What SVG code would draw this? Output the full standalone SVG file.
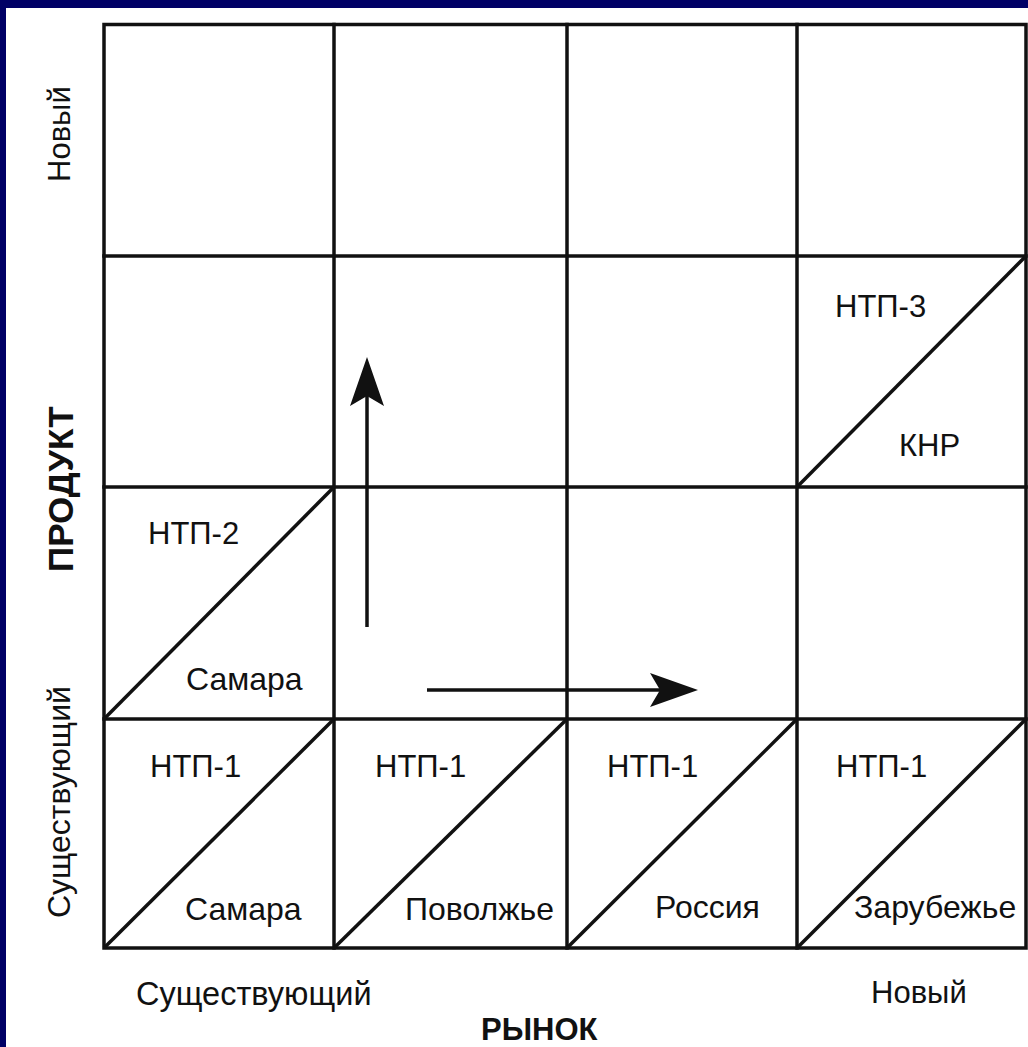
<svg xmlns="http://www.w3.org/2000/svg" width="1028" height="1047" viewBox="0 0 1028 1047">
  <style>
    .grid { stroke: #111; stroke-width: 3.5; fill: none; stroke-linecap: square; }
    .diag { stroke: #111; stroke-width: 3.5; fill: none; }
    .arrow { stroke: #111; stroke-width: 3.5; fill: none; }
    .head { fill: #111; stroke: none; }
    text { font-family: "Liberation Sans", Arial, sans-serif; font-size: 31px; fill: #111; }
    .name { font-size: 32px; }
    .axis { font-size: 32.5px; }
    .bold { font-weight: bold; }
  </style>
  <rect x="0" y="0" width="1028" height="1047" fill="#000066"/>
  <rect x="6" y="8" width="1022" height="1039" fill="#ffffff"/>

  <g id="grid">
    <rect class="grid" x="104" y="24.5" width="922" height="923.5"/>
    <line class="grid" x1="334" y1="24.5" x2="334" y2="948"/>
    <line class="grid" x1="567" y1="24.5" x2="567" y2="948"/>
    <line class="grid" x1="797" y1="24.5" x2="797" y2="948"/>
    <line class="grid" x1="104" y1="256" x2="1026" y2="256"/>
    <line class="grid" x1="104" y1="487" x2="1026" y2="487"/>
    <line class="grid" x1="104" y1="719" x2="1026" y2="719"/>
  </g>

  <g id="cell-ntp1-samara">
    <line class="diag" x1="104" y1="948" x2="334" y2="719"/>
    <text x="150" y="777">НТП-1</text>
    <text class="name" x="185" y="920">Самара</text>
  </g>
  <g id="cell-ntp1-povolzhye">
    <line class="diag" x1="334" y1="948" x2="567" y2="719"/>
    <text x="375" y="777">НТП-1</text>
    <text class="name" x="405" y="920">Поволжье</text>
  </g>
  <g id="cell-ntp1-russia">
    <line class="diag" x1="567" y1="948" x2="797" y2="719"/>
    <text x="607" y="777">НТП-1</text>
    <text class="name" x="655" y="918">Россия</text>
  </g>
  <g id="cell-ntp1-abroad">
    <line class="diag" x1="797" y1="948" x2="1026" y2="719"/>
    <text x="836" y="777">НТП-1</text>
    <text class="name" x="854" y="918">Зарубежье</text>
  </g>
  <g id="cell-ntp2-samara">
    <line class="diag" x1="104" y1="719" x2="334" y2="487"/>
    <text x="148" y="544">НТП-2</text>
    <text class="name" x="186" y="690">Самара</text>
  </g>
  <g id="cell-ntp3-knr">
    <line class="diag" x1="797" y1="487" x2="1026" y2="256"/>
    <text x="835" y="317">НТП-3</text>
    <text x="899" y="456">КНР</text>
  </g>

  <g id="connectors">
    <line class="arrow" x1="367" y1="627" x2="367" y2="395"/>
    <path class="head" d="M367,357 L384,406 L367,396 L350,406 Z"/>
    <line class="arrow" x1="427" y1="690" x2="660" y2="690"/>
    <path class="head" d="M698,690 L650,707 L660,690 L650,673 Z"/>
  </g>

  <g id="axis-labels">
    <text class="axis" x="136" y="1005">Существующий</text>
    <text x="871" y="1003">Новый</text>
    <text class="bold" x="481" y="1040">РЫНОК</text>
    <text transform="translate(70,182) rotate(-90)">Новый</text>
    <text class="bold" style="font-size:35px" transform="translate(73,572) rotate(-90)">ПРОДУКТ</text>
    <text class="name" transform="translate(70,918) rotate(-90)">Существующий</text>
  </g>
</svg>
